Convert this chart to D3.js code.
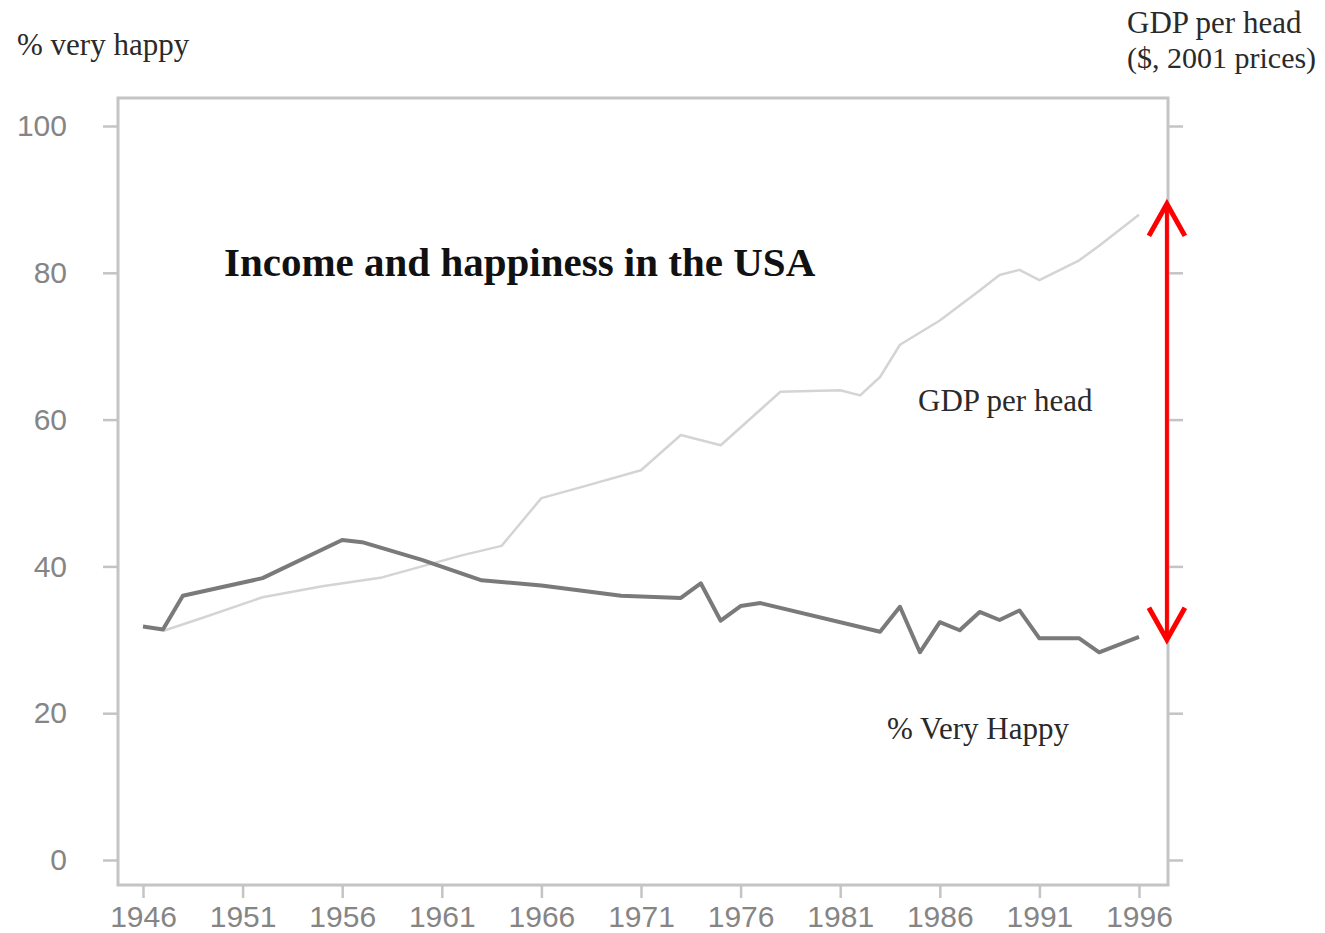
<!DOCTYPE html>
<html>
<head>
<meta charset="utf-8">
<script src="https://cdn.jsdelivr.net/npm/d3@7"></script>
<style>
  body { margin: 0; background: #fff; }
  svg { display: block; }
</style>
</head>
<body>
<script>
// Data (GDP is drawn on the same 0-100 chart units, right axis is unlabelled)
var happyYears = [1946, 1947, 1948, 1952, 1956, 1957, 1960, 1963, 1966, 1970, 1973, 1974, 1975, 1976, 1977, 1983, 1984, 1985, 1986, 1987, 1988, 1989, 1990, 1991, 1993, 1994, 1996];
var happyValues = [31.8, 31.4, 36.0, 38.4, 43.6, 43.3, 40.9, 38.1, 37.4, 36.0, 35.7, 37.7, 32.6, 34.6, 35.0, 31.1, 34.5, 28.3, 32.4, 31.3, 33.8, 32.7, 34.0, 30.2, 30.2, 28.3, 30.4];

var gdpYears = [1947, 1949, 1952, 1955, 1958, 1960, 1962, 1964, 1966, 1968, 1971, 1973, 1975, 1978, 1981, 1982, 1983, 1984, 1986, 1988, 1989, 1990, 1991, 1993, 1994, 1995, 1996];
var gdpValues = [31.2, 33.0, 35.8, 37.3, 38.5, 40.0, 41.5, 42.8, 49.3, 50.8, 53.1, 57.9, 56.5, 63.8, 64.0, 63.3, 65.8, 70.2, 73.5, 77.6, 79.7, 80.4, 79.0, 81.7, 83.7, 85.8, 87.9];

var yTicks = [0, 20, 40, 60, 80, 100];
var xTicks = [1946, 1951, 1956, 1961, 1966, 1971, 1976, 1981, 1986, 1991, 1996];

// red double arrow: from GDP level down to happiness level
var arrowYear = 1997.4;
var arrowEnds = [29.6, 89.8];

var width = 1325,
  height = 933;
var frame = { left: 118, right: 1168, top: 98, bottom: 885 };

var svg = d3.select('body')
  .append('svg')
  .attr('width', width)
  .attr('height', height)
  .style('background', '#ffffff');

// Scales
var xScale = d3.scaleLinear()
  .domain([1946, 1996])
  .range([143, 1139]);

var yScale = d3.scaleLinear()
  .domain([0, 100])
  .range([860, 126]);

var axisColor = '#c4c4c4';
var tickFont = '"Liberation Sans", Arial, sans-serif';
var serif = '"Liberation Serif", "Times New Roman", serif';

// Frame box
svg.append('rect')
  .attr('x', frame.left)
  .attr('y', frame.top)
  .attr('width', frame.right - frame.left)
  .attr('height', frame.bottom - frame.top)
  .attr('fill', 'none')
  .attr('stroke', axisColor)
  .attr('stroke-width', 3);

// Axes
var yAxis = svg.append('g')
  .attr('transform', `translate(${frame.left},0)`)
  .call(d3.axisLeft(yScale).tickValues(yTicks).tickSize(15).tickPadding(36));

var yAxisRight = svg.append('g')
  .attr('transform', `translate(${frame.right},0)`)
  .call(d3.axisRight(yScale).tickValues(yTicks).tickSize(15).tickFormat(''));

var xAxis = svg.append('g')
  .attr('transform', `translate(0,${frame.bottom})`)
  .call(d3.axisBottom(xScale).tickValues(xTicks).tickFormat(d3.format('d')).tickSize(13).tickPadding(8));

svg.selectAll('.domain').remove();
svg.selectAll('.tick line')
  .attr('stroke', axisColor)
  .attr('stroke-width', 2.5);
svg.selectAll('.tick text')
  .style('font-family', tickFont)
  .style('font-size', '30px')
  .attr('fill', '#858585');

// Lines
var line = d3.line()
  .x(function(d) { return xScale(d[0]); })
  .y(function(d) { return yScale(d[1]); });

svg.append('path')
  .datum(d3.zip(gdpYears, gdpValues))
  .attr('d', line)
  .attr('fill', 'none')
  .attr('stroke', '#d4d4d4')
  .attr('stroke-width', 2.5)
  .attr('stroke-linejoin', 'round');

svg.append('path')
  .datum(d3.zip(happyYears, happyValues))
  .attr('d', line)
  .attr('fill', 'none')
  .attr('stroke', '#7a7a7a')
  .attr('stroke-width', 4)
  .attr('stroke-linejoin', 'round');

// Red double arrow
var ax = xScale(arrowYear),
  aTop = yScale(arrowEnds[1]),
  aBot = yScale(arrowEnds[0]);

svg.append('line')
  .attr('x1', ax).attr('x2', ax)
  .attr('y1', aTop + 3).attr('y2', aBot - 3)
  .attr('stroke', '#ff0000')
  .attr('stroke-width', 4);

svg.append('path')
  .attr('d', `M${ax - 18},${aTop + 35} L${ax},${aTop + 3} L${ax + 18},${aTop + 35}`)
  .attr('fill', 'none')
  .attr('stroke', '#ff0000')
  .attr('stroke-width', 5);

svg.append('path')
  .attr('d', `M${ax - 18},${aBot - 35} L${ax},${aBot - 3} L${ax + 18},${aBot - 35}`)
  .attr('fill', 'none')
  .attr('stroke', '#ff0000')
  .attr('stroke-width', 5);

// Texts
svg.append('text').attr('x', 17).attr('y', 55).text('% very happy')
  .style('font-family', serif).style('font-size', '31px').attr('fill', '#2a2a2a');

svg.append('text').attr('x', 1127).attr('y', 33).text('GDP per head')
  .style('font-family', serif).style('font-size', '31px').attr('fill', '#2a2a2a');
svg.append('text').attr('x', 1127).attr('y', 68).text('($, 2001 prices)')
  .style('font-family', serif).style('font-size', '30px').attr('fill', '#2a2a2a');

svg.append('text').attr('x', 224).attr('y', 276).text('Income and happiness in the USA')
  .style('font-family', serif).style('font-size', '41px').style('font-weight', 'bold').attr('fill', '#111');

svg.append('text').attr('x', 918).attr('y', 411).text('GDP per head')
  .style('font-family', serif).style('font-size', '31px').attr('fill', '#2a2a2a');

svg.append('text').attr('x', 887).attr('y', 739).text('% Very Happy')
  .style('font-family', serif).style('font-size', '31px').attr('fill', '#2a2a2a');
</script>
</body>
</html>
